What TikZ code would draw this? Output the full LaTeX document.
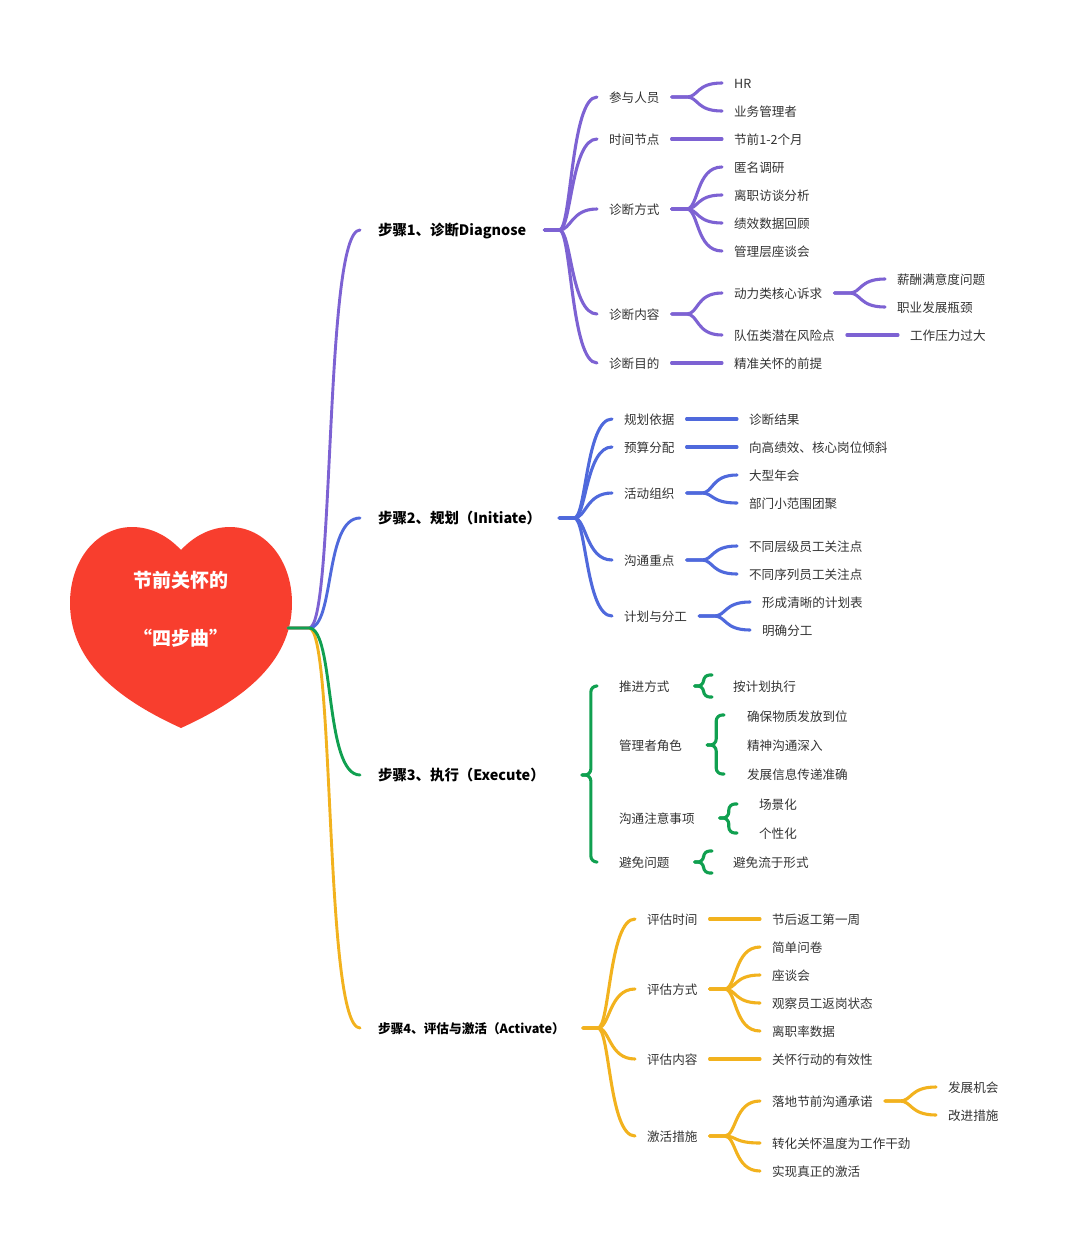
\documentclass[tikz,border=0pt]{standalone}
\usepackage{fontspec}
\setmainfont{Noto Sans CJK SC}
\newcommand{\link}[3]{\draw[#1] (#2.east) -- ++(15,0) .. controls +(12,0) and +(-26,0) .. (#3.west);}
\newcommand{\rootlink}[2]{\draw[#1,line width=1.45mm] (heart) -- ++(21,0) .. controls +(26,0) and +(-36,0) .. (#2.west);}
\newcommand{\curly}[4]{
\path (#1.east) ++(#2,0) coordinate (tip) ++(9,0) coordinate (sp);
\draw[grn,rounded corners=3mm] (#3) -- (#3 -| sp) -- (tip -| sp) -- (tip);
\draw[grn,rounded corners=3mm] (tip) -- (tip -| sp) -- (#4 -| sp) -- (#4);}
\begin{document}
\begin{tikzpicture}[x=0.5mm,y=-0.5mm,
pur/.style = {draw=purp,line width=1.55mm,line cap=round},
blu/.style = {draw=bluep,line width=1.55mm,line cap=round},
grn/.style = {draw=greenp,line width=1.55mm,line cap=round},
yel/.style = {draw=yellowp,line width=1.55mm,line cap=round},
item/.style = {anchor=west,xshift=-1mm,inner xsep=6mm,inner ysep=0pt,text height=20pt,text depth=3.5pt,text=textp,font=\fontsize{17.9pt}{20pt}\selectfont},
stepn/.style = {anchor=west,inner xsep=9mm,inner ysep=0pt,text height=20pt,text depth=3.5pt,text=black,font=\fontsize{#1}{20pt}\selectfont\bfseries},
stepn/.default = 20.5pt,
htext/.style = {text=white,font=\fontsize{27pt}{30pt}\selectfont\bfseries}]
\definecolor{purp}{HTML}{7D62D3}
\definecolor{bluep}{HTML}{4F69DC}
\definecolor{greenp}{HTML}{10A050}
\definecolor{yellowp}{HTML}{F2B21E}
\definecolor{heartp}{HTML}{F83E2E}
\definecolor{textp}{HTML}{333333}
\useasboundingbox (0,0) rectangle (1080,1253);

% heart
\fill[heartp] (181,550) .. controls (195,535) and (212,527) .. (230,527) .. controls (265,527) and (292,560) .. (292,603) .. controls (292,665) and (238,702) .. (181,728) .. controls (124,702) and (70,665) .. (70,603) .. controls (70,560) and (97,527) .. (132,527) .. controls (150,527) and (167,535) .. (181,550);
\node (h1) at (181,580) [htext] {节前关怀的};
\node (h2) at (181,638) [htext] {“四步曲”};
\coordinate (heart) at (288,628);

% steps
\node (s1) at (360,230) [stepn] {步骤1、诊断Diagnose};
\node (s2) at (360,518) [stepn] {步骤2、规划（Initiate）};
\node (s3) at (360,775) [stepn] {步骤3、执行（Execute）};
\node (s4) at (360,1028) [stepn=18pt] {步骤4、评估与激活（Activate）};
\rootlink{pur}{s1}
\rootlink{blu}{s2}
\rootlink{yel}{s4}
\rootlink{grn}{s3}

% step 1
\node (a1) at (599,97) [item] {参与人员};
\node (a2) at (599,139) [item] {时间节点};
\node (a3) at (599,209) [item] {诊断方式};
\node (a4) at (599,314) [item] {诊断内容};
\node (a5) at (599,363) [item] {诊断目的};
\node (a11) at (724,83) [item] {HR};
\node (a12) at (724,111) [item] {业务管理者};
\node (a21) at (724,139) [item] {节前1-2个月};
\node (a31) at (724,167) [item] {匿名调研};
\node (a32) at (724,195) [item] {离职访谈分析};
\node (a33) at (724,223) [item] {绩效数据回顾};
\node (a34) at (724,251) [item] {管理层座谈会};
\node (a41) at (724,293) [item] {动力类核心诉求};
\node (a42) at (724,335) [item] {队伍类潜在风险点};
\node (a51) at (724,363) [item] {精准关怀的前提};
\node (a411) at (887,279) [item] {薪酬满意度问题};
\node (a412) at (887,307) [item] {职业发展瓶颈};
\node (a421) at (900,335) [item] {工作压力过大};
\link{pur}{s1}{a1}
\link{pur}{s1}{a2}
\link{pur}{s1}{a3}
\link{pur}{s1}{a4}
\link{pur}{s1}{a5}
\link{pur}{a1}{a11}
\link{pur}{a1}{a12}
\link{pur}{a2}{a21}
\link{pur}{a3}{a31}
\link{pur}{a3}{a32}
\link{pur}{a3}{a33}
\link{pur}{a3}{a34}
\link{pur}{a4}{a41}
\link{pur}{a4}{a42}
\link{pur}{a5}{a51}
\link{pur}{a41}{a411}
\link{pur}{a41}{a412}
\link{pur}{a42}{a421}

% step 2
\node (b1) at (614,419) [item] {规划依据};
\node (b2) at (614,447) [item] {预算分配};
\node (b3) at (614,493) [item] {活动组织};
\node (b4) at (614,560) [item] {沟通重点};
\node (b5) at (614,616) [item] {计划与分工};
\node (b11) at (739,419) [item] {诊断结果};
\node (b21) at (739,447) [item] {向高绩效、核心岗位倾斜};
\node (b31) at (739,475) [item] {大型年会};
\node (b32) at (739,503) [item] {部门小范围团聚};
\node (b41) at (739,546) [item] {不同层级员工关注点};
\node (b42) at (739,574) [item] {不同序列员工关注点};
\node (b51) at (752,602) [item] {形成清晰的计划表};
\node (b52) at (752,630) [item] {明确分工};
\link{blu}{s2}{b1}
\link{blu}{s2}{b2}
\link{blu}{s2}{b3}
\link{blu}{s2}{b4}
\link{blu}{s2}{b5}
\link{blu}{b1}{b11}
\link{blu}{b2}{b21}
\link{blu}{b3}{b31}
\link{blu}{b3}{b32}
\link{blu}{b4}{b41}
\link{blu}{b4}{b42}
\link{blu}{b5}{b51}
\link{blu}{b5}{b52}

% step 3
\node (c1) at (609,686) [item] {推进方式};
\node (c2) at (609,745) [item] {管理者角色};
\node (c3) at (609,818) [item] {沟通注意事项};
\node (c4) at (609,862) [item] {避免问题};
\node (c11) at (723,686) [item] {按计划执行};
\node (c21) at (737,716) [item] {确保物质发放到位};
\node (c22) at (737,745) [item] {精神沟通深入};
\node (c23) at (737,774) [item] {发展信息传递准确};
\node (c31) at (749,804) [item] {场景化};
\node (c32) at (749,833) [item] {个性化};
\node (c41) at (723,862) [item] {避免流于形式};
\coordinate (c0t) at (597,686);
\coordinate (c0b) at (597,862);
\coordinate (c1t) at (712,675);
\coordinate (c1b) at (712,697);
\coordinate (c2t) at (724,715);
\coordinate (c2b) at (724,774);
\coordinate (c3t) at (737,804);
\coordinate (c3b) at (737,833);
\coordinate (c4t) at (712,851);
\coordinate (c4b) at (712,873);
\curly{s3}{19}{c0t}{c0b}
\curly{c1}{13}{c1t}{c1b}
\curly{c2}{13}{c2t}{c2b}
\curly{c3}{13}{c3t}{c3b}
\curly{c4}{13}{c4t}{c4b}

% step 4
\node (e1) at (637,919) [item] {评估时间};
\node (e2) at (637,989) [item] {评估方式};
\node (e3) at (637,1059) [item] {评估内容};
\node (e4) at (637,1136) [item] {激活措施};
\node (e11) at (762,919) [item] {节后返工第一周};
\node (e21) at (762,947) [item] {简单问卷};
\node (e22) at (762,975) [item] {座谈会};
\node (e23) at (762,1003) [item] {观察员工返岗状态};
\node (e24) at (762,1031) [item] {离职率数据};
\node (e31) at (762,1059) [item] {关怀行动的有效性};
\node (e41) at (762,1101) [item] {落地节前沟通承诺};
\node (e42) at (762,1143) [item] {转化关怀温度为工作干劲};
\node (e43) at (762,1171) [item] {实现真正的激活};
\node (e411) at (938,1087) [item] {发展机会};
\node (e412) at (938,1115) [item] {改进措施};
\link{yel}{s4}{e1}
\link{yel}{s4}{e2}
\link{yel}{s4}{e3}
\link{yel}{s4}{e4}
\link{yel}{e1}{e11}
\link{yel}{e2}{e21}
\link{yel}{e2}{e22}
\link{yel}{e2}{e23}
\link{yel}{e2}{e24}
\link{yel}{e3}{e31}
\link{yel}{e4}{e41}
\link{yel}{e4}{e42}
\link{yel}{e4}{e43}
\link{yel}{e41}{e411}
\link{yel}{e41}{e412}

\end{tikzpicture}
\end{document}
